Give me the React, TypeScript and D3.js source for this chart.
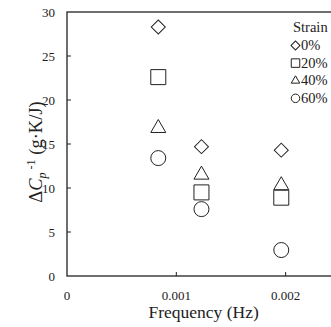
import React, { useEffect, useRef } from 'react';
import * as d3 from 'd3';

const freq = [0.000835, 0.00123, 0.00196];
const strain0 = [28.3, 14.7, 14.3];
const strain20 = [22.6, 9.5, 8.9];
const strain40 = [16.8, 11.5, 10.3];
const strain60 = [13.4, 7.6, 2.95];
const strainLabels = ['0%', '20%', '40%', '60%'];
const yTicks = [0, 5, 10, 15, 20, 25, 30];
const xTicks = [0, 0.001, 0.002];

const W = 331;
const H = 327;
const FONT = '"Liberation Serif", "Times New Roman", serif';

export default function App() {
    const svgRef = useRef<SVGSVGElement>(null);

    useEffect(() => {
        const svg = d3.select(svgRef.current);
        svg.selectAll('*').remove();

        const margin = { left: 67, top: 12, bottom: 276 };
        const x = d3.scaleLinear().domain([0, 0.0025]).range([margin.left, 340.3]);
        const y = d3.scaleLinear().domain([0, 30]).range([margin.bottom, margin.top]);

        // plot frame
        svg.append('rect')
            .attr('x', x(0))
            .attr('y', y(30))
            .attr('width', x(0.0025) - x(0))
            .attr('height', y(0) - y(30))
            .attr('fill', 'none')
            .attr('stroke', '#222')
            .attr('stroke-width', 1.3);

        // y ticks
        yTicks.forEach((t) => {
            if (t > 0 && t < 30) {
                svg.append('line')
                    .attr('x1', x(0)).attr('x2', x(0) + 4)
                    .attr('y1', y(t)).attr('y2', y(t))
                    .attr('stroke', '#222');
            }
            svg.append('text')
                .attr('x', 55)
                .attr('y', y(t) + 4.5)
                .attr('text-anchor', 'end')
                .attr('font-family', FONT)
                .attr('font-size', 13)
                .attr('fill', '#222')
                .text(t);
        });

        // x ticks
        xTicks.forEach((t) => {
            if (t > 0) {
                svg.append('line')
                    .attr('x1', x(t)).attr('x2', x(t))
                    .attr('y1', y(0)).attr('y2', y(0) - 4)
                    .attr('stroke', '#222');
            }
            svg.append('text')
                .attr('x', x(t))
                .attr('y', 300)
                .attr('text-anchor', 'middle')
                .attr('font-family', FONT)
                .attr('font-size', 13)
                .attr('fill', '#222')
                .text(t === 0 ? '0' : d3.format('.3f')(t));
        });

        // axis titles
        svg.append('text')
            .attr('x', (x(0) + x(0.0025)) / 2)
            .attr('y', 318)
            .attr('text-anchor', 'middle')
            .attr('font-family', FONT)
            .attr('font-size', 17.5)
            .attr('fill', '#222')
            .text('Frequency (Hz)');

        const yl = svg.append('text')
            .attr('transform', 'translate(42,152) rotate(-90)')
            .attr('text-anchor', 'middle')
            .attr('font-family', FONT)
            .attr('font-size', 18.5)
            .attr('fill', '#222');
        yl.append('tspan').text('Δ');
        yl.append('tspan').attr('font-style', 'italic').text('C');
        yl.append('tspan').attr('font-style', 'italic').attr('font-size', 12).attr('dy', 4).text('p');
        yl.append('tspan').attr('font-size', 12).attr('dy', -11).text(' -1');
        yl.append('tspan').attr('dy', 7).text(' (g·K/J)');

        const series = [
            { values: strain0, type: 'diamond' },
            { values: strain20, type: 'square' },
            { values: strain40, type: 'triangle' },
            { values: strain60, type: 'circle' },
        ];

        // s = overall width of the marker
        const symbolPath = (type: string, s: number) => {
            if (type === 'diamond') return d3.symbol(d3.symbolSquare, (s * s) / 2)();
            if (type === 'square') return d3.symbol(d3.symbolSquare, s * s)();
            if (type === 'triangle') return d3.symbol(d3.symbolTriangle, (Math.sqrt(3) / 4) * s * s)();
            return d3.symbol(d3.symbolCircle, Math.PI * (s / 2) ** 2)();
        };
        const sizes: Record<string, number> = { diamond: 14, square: 15, triangle: 15, circle: 15 };

        series.forEach((sr) => {
            svg.append('g')
                .selectAll('path')
                .data(sr.values)
                .join('path')
                .attr('d', symbolPath(sr.type, sizes[sr.type]))
                .attr('transform', (d, i) =>
                    `translate(${x(freq[i])},${y(d)})${sr.type === 'diamond' ? ' rotate(45)' : ''}`)
                .attr('fill', 'white')
                .attr('stroke', '#222')
                .attr('stroke-width', 1);
        });

        // legend
        const lg = svg.append('g').attr('font-family', FONT).attr('font-size', 14.5).attr('fill', '#222');
        lg.append('text').attr('x', 293).attr('y', 32).text('Strain');
        series.forEach((sr, i) => {
            const yy = 50 + i * 17.6;
            lg.append('path')
                .attr('d', symbolPath(sr.type, sr.type === 'diamond' ? 9 : 8.5))
                .attr('transform', `translate(295.5,${yy - 4.5})${sr.type === 'diamond' ? ' rotate(45)' : ''}`)
                .attr('fill', 'none')
                .attr('stroke', '#222');
            lg.append('text').attr('x', 301).attr('y', yy).text(strainLabels[i]);
        });
    }, []);

    return (
        <svg
            ref={svgRef}
            width={W}
            height={H}
            style={{ position: 'absolute', left: 0, top: 0, background: 'white' }}
        />
    );
}
